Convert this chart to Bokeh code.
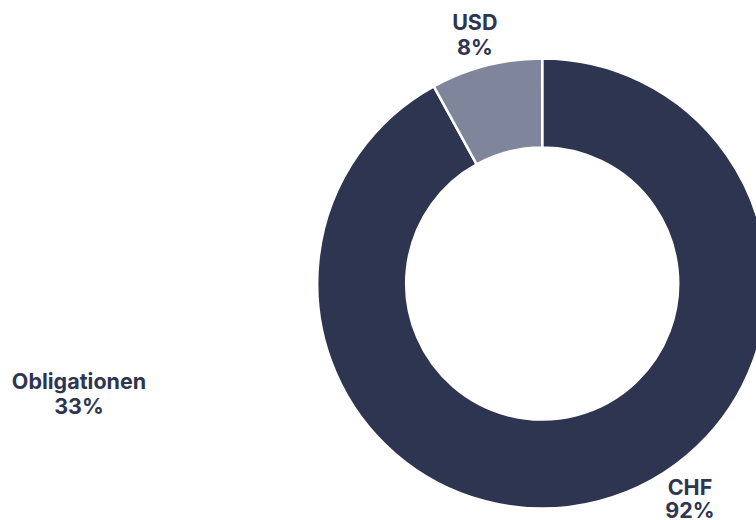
import numpy as np
from bokeh.plotting import figure
from bokeh.models import ColumnDataSource, Range1d
from bokeh.core.properties import value
from bokeh.embed import file_html
from bokeh.resources import INLINE

# ---- data ----
categories = ["CHF", "USD"]
shares = [92, 8]
colors = ["#2E3550", "#7F859B"]
extra_label = "Obligationen"
extra_share = 33

# ---- layout (pixels, y up) ----
W, H = 756, 520
cx, cy = 541.7, H - 283.0
r_outer, r_inner = 225.0, 136.0

frac = np.array(shares, dtype=float) / sum(shares)
cum = np.concatenate([[0], np.cumsum(frac)])
start = np.pi / 2 - 2 * np.pi * cum[:-1]
end = np.pi / 2 - 2 * np.pi * cum[1:]

src = ColumnDataSource(dict(cat=categories, start=start, end=end, color=colors))

p = figure(width=W, height=H, output_backend="svg", toolbar_location=None,
           x_range=Range1d(0, W), y_range=Range1d(0, H),
           x_axis_type=None, y_axis_type=None, min_border=0)
p.outline_line_color = None
p.grid.visible = False
p.background_fill_color = "white"
p.border_fill_color = "white"

p.annular_wedge(x=cx, y=cy, inner_radius=r_inner, outer_radius=r_outer,
                start_angle="start", end_angle="end", direction="clock",
                fill_color="color", line_color="white", line_width=2.5,
                source=src)

shift = 9  # renderer places alphabetic baseline lower than requested

def to_c(sx, sy):
    return sx, H - (sy - shift)

label_pos = {"CHF": (689.5, 495.5), "USD": (474.3, 30.5)}
pitch = 24.5
txt_color = "#2E3550"
font = value("Inter")

lx, ly1, ly2, t1, t2 = [], [], [], [], []
for c, s in zip(categories, shares):
    sx, sy = label_pos[c]
    x, y = to_c(sx, sy)
    lx.append(x); ly1.append(y); ly2.append(y - pitch)
    t1.append(c); t2.append(f"{s}%")
# keep the CHF percentage inside the page
ly2[0] = to_c(0, 518.0)[1]
ox, oy = to_c(78.5, 389.3)
lx.append(ox); ly1.append(oy); ly2.append(oy - 25.5)
t1.append(extra_label); t2.append(f"{extra_share}%")

for ys, ts in ((ly1, t1), (ly2, t2)):
    p.text(x=lx, y=ys, text=ts, text_font=font, text_font_style="bold",
           text_font_size="21.5px", text_color=txt_color,
           text_align="center", text_baseline="alphabetic")

open("out.html", "w").write(file_html(p, INLINE))
